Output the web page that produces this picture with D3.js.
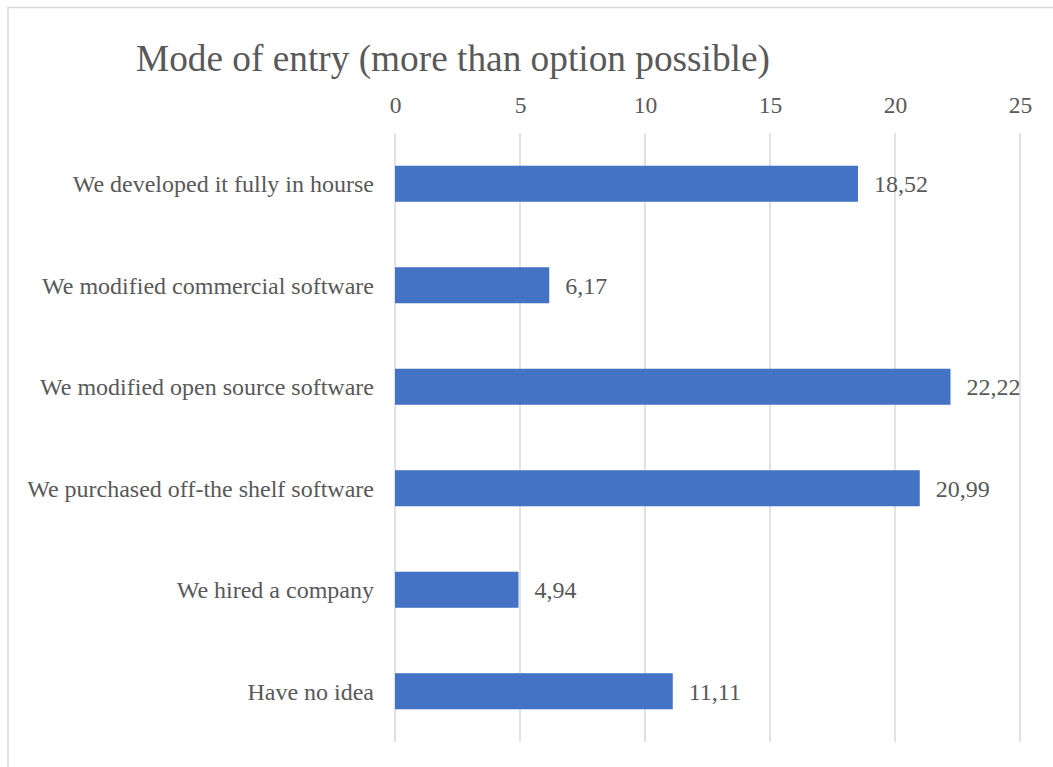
<!DOCTYPE html>
<html>
<head>
<meta charset="utf-8">
<script src="https://cdn.jsdelivr.net/npm/d3@7"></script>
<style>
  html, body { margin: 0; padding: 0; background: #fff; }
  svg { display: block; }
  text { font-family: "Liberation Serif", "Times New Roman", serif; fill: #595959; }
</style>
</head>
<body>
<svg id="chart" width="1053" height="767"></svg>
<script>
// Survey answers: share of respondents per mode of entry
const categories = [
  "We developed it fully in hourse",
  "We modified commercial software",
  "We modified open source software",
  "We purchased off-the shelf software",
  "We hired a company",
  "Have no idea"
];
const values = [18.52, 6.17, 22.22, 20.99, 4.94, 11.11];
const valueLabels = ["18,52", "6,17", "22,22", "20,99", "4,94", "11,11"];
const tickValues = [0, 5, 10, 15, 20, 25];
const titleText = "Mode of entry (more than option possible)";

const svg = d3.select("#chart");
const margin = { left: 395, right: 33, top: 133, bottom: 25 };
const W = 1053, H = 767;

// chart frame
svg.append("rect")
  .attr("x", 8).attr("y", 7.5)
  .attr("width", 1060).attr("height", 780)
  .attr("fill", "#fff")
  .attr("stroke", "#d9d9d9").attr("stroke-width", 1.5);

const x = d3.scaleLinear().domain([0, 25]).range([margin.left, W - margin.right]);
const y = d3.scaleBand().domain(categories)
  .range([margin.top, H - margin.bottom])
  .paddingInner(0.645).paddingOuter(0.3225);

// vertical gridlines
svg.append("g")
  .selectAll("line")
  .data(tickValues)
  .join("line")
  .attr("x1", d => x(d)).attr("x2", d => x(d))
  .attr("y1", margin.top).attr("y2", H - margin.bottom)
  .attr("stroke", "#d9d9d9").attr("stroke-width", 1.5);

// top axis labels
const axis = d3.axisTop(x).tickValues(tickValues).tickSize(0).tickPadding(0);
const gAxis = svg.append("g").attr("transform", `translate(0,113)`).call(axis);
gAxis.select(".domain").remove();
gAxis.selectAll("text")
  .attr("dy", 0)
  .style("font-family", '"Liberation Serif", "Times New Roman", serif')
  .style("font-size", "23.5px")
  .attr("fill", "#595959");

// bars
svg.append("g")
  .selectAll("rect")
  .data(values)
  .join("rect")
  .attr("x", x(0))
  .attr("y", (d, i) => y(categories[i]))
  .attr("width", d => x(d) - x(0))
  .attr("height", y.bandwidth())
  .attr("fill", "#4472C4");

// category labels
svg.append("g")
  .selectAll("text")
  .data(categories)
  .join("text")
  .attr("x", x(0) - 21)
  .attr("y", d => y(d) + y.bandwidth() / 2)
  .attr("dy", "0.35em")
  .attr("text-anchor", "end")
  .style("font-size", "24px")
  .text(d => d);

// value labels
svg.append("g")
  .selectAll("text")
  .data(values)
  .join("text")
  .attr("x", d => x(d) + 16)
  .attr("y", (d, i) => y(categories[i]) + y.bandwidth() / 2)
  .attr("dy", "0.35em")
  .style("font-size", "24px")
  .text((d, i) => valueLabels[i]);

// title
svg.append("text")
  .attr("x", 136).attr("y", 71)
  .style("font-size", "37.3px")
  .text(titleText);
</script>
</body>
</html>
